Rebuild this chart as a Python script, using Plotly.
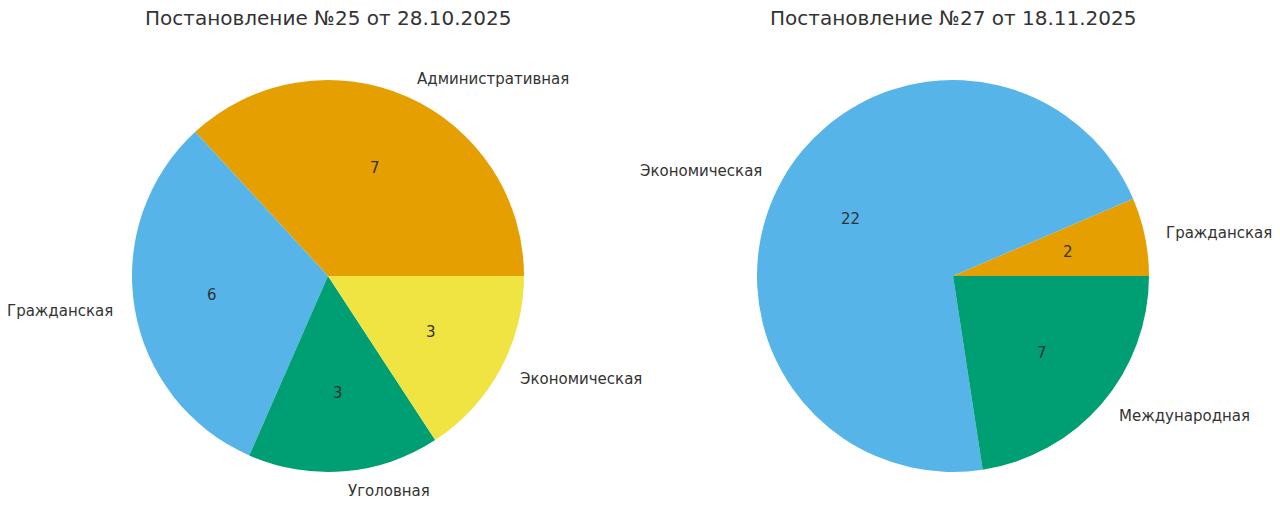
import math
import plotly.graph_objects as go

W, H = 1280, 529
OFF = 8  # page body margin in the browser
FW, FH = W - OFF, H - OFF

title_left = "Постановление №25 от 28.10.2025"
labels_left = ["Административная", "Гражданская", "Уголовная", "Экономическая"]
values_left = [7, 6, 3, 3]
colors_left = ["#E69F00", "#56B4E9", "#009E73", "#F0E442"]

title_right = "Постановление №27 от 18.11.2025"
labels_right = ["Гражданская", "Экономическая", "Международная"]
values_right = [2, 22, 7]
colors_right = ["#E69F00", "#56B4E9", "#009E73"]

FONT = "DejaVu Sans"
TXT = "#333333"


def px_x(X):
    return (X - OFF) / FW


def px_y(Y):
    return 1 - (Y - OFF) / FH


fig = go.Figure()
annotations = []


def add_pie(labels, values, colors, cx, cy, r, title):
    total = sum(values)
    first_span = values[0] / total * 360
    fig.add_trace(go.Pie(
        labels=labels, values=values, sort=False,
        direction="counterclockwise", rotation=90 - first_span,
        marker=dict(colors=colors, line=dict(width=0)),
        textinfo="none", hoverinfo="label+value",
        domain=dict(x=[px_x(cx - r), px_x(cx + r)], y=[px_y(cy + r), px_y(cy - r)]),
        showlegend=False,
    ))
    start = 0.0
    for lab, v in zip(labels, values):
        span = v / total * 360
        mid = math.radians(start + span / 2)
        start += span
        c, s = math.cos(mid), math.sin(mid)
        lx, ly = cx + 1.1 * r * c, cy - 1.1 * r * s
        annotations.append(dict(
            x=px_x(lx), y=px_y(ly), xref="paper", yref="paper",
            text=lab, showarrow=False,
            xanchor="left" if c > 0 else "right", yanchor="middle",
            font=dict(family=FONT, size=15, color=TXT),
        ))
        tx, ty = cx + 0.6 * r * c, cy - 0.6 * r * s
        annotations.append(dict(
            x=px_x(tx), y=px_y(ty), xref="paper", yref="paper",
            text=str(v), showarrow=False,
            xanchor="center", yanchor="middle",
            font=dict(family=FONT, size=15, color=TXT),
        ))
    annotations.append(dict(
        x=px_x(cx), y=px_y(18), xref="paper", yref="paper",
        text=title, showarrow=False, xanchor="center", yanchor="middle",
        font=dict(family=FONT, size=20, color=TXT),
    ))


add_pie(labels_left, values_left, colors_left, 328, 276, 196, title_left)
add_pie(labels_right, values_right, colors_right, 953, 276, 196, title_right)

fig.update_layout(
    width=FW, height=FH,
    margin=dict(l=0, r=0, t=0, b=0),
    paper_bgcolor="white", plot_bgcolor="white",
    annotations=annotations,
    font=dict(family=FONT, color=TXT),
)

fig.write_html("out.html")
